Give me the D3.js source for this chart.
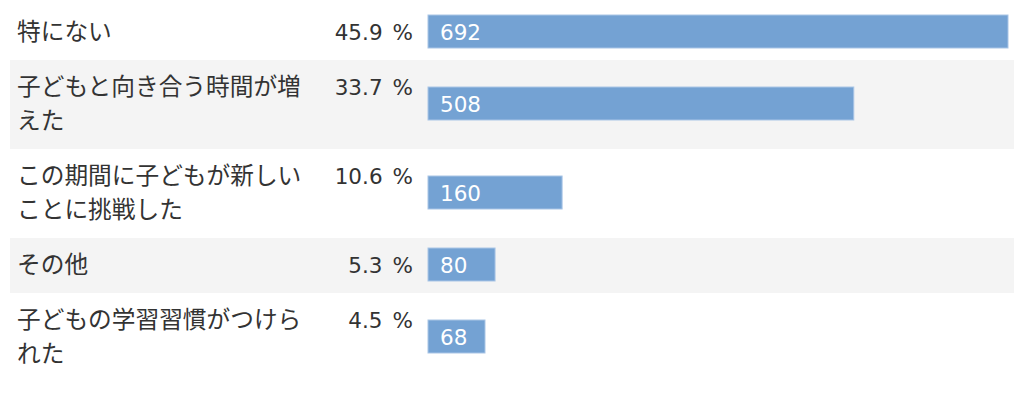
<!DOCTYPE html>
<html>
<head>
<meta charset="utf-8">
<script src="https://cdn.jsdelivr.net/npm/d3@7"></script>
<style>
  body { margin: 0; background: #fff; }
  svg text { font-family: "Noto Sans CJK JP", "Noto Sans", sans-serif; }
  svg text.num { font-family: "DejaVu Sans", Verdana, sans-serif; }
</style>
</head>
<body>
<svg id="chart" width="1024" height="396"></svg>
<script>
const labels = [
  "特にない",
  "子どもと向き合う時間が増えた",
  "この期間に子どもが新しいことに挑戦した",
  "その他",
  "子どもの学習習慣がつけられた"
];
const percents = [45.9, 33.7, 10.6, 5.3, 4.5];
const counts = [692, 508, 160, 80, 68];

const svg = d3.select("#chart");

const charsPerLine = 12;
const lineHeight = 34;
const rowPad = 21;
const top0 = 5;

// split labels into lines of 12 chars
const rows = labels.map((label, i) => {
  const lines = [];
  for (let k = 0; k < label.length; k += charsPerLine) lines.push(label.slice(k, k + charsPerLine));
  return { label, lines, pct: percents[i], count: counts[i] };
});

let y = top0;
rows.forEach(r => {
  r.y = y;
  r.h = rowPad + lineHeight * r.lines.length;
  y += r.h;
});

const x = d3.scaleLinear()
  .domain([0, d3.max(counts)])
  .range([428, 1008]);

const g = svg.selectAll("g.row")
  .data(rows)
  .join("g")
  .attr("class", "row")
  .attr("transform", d => `translate(0,${d.y})`);

g.append("rect")
  .attr("x", 10)
  .attr("width", 1004)
  .attr("height", d => d.h)
  .attr("fill", (d, i) => i % 2 ? "#f4f4f4" : "#fff");

g.append("text")
  .attr("x", 17)
  .attr("y", 35)
  .attr("font-size", 23.7)
  .attr("fill", "#333")
  .selectAll("tspan")
  .data(d => d.lines)
  .join("tspan")
  .attr("x", 17)
  .attr("dy", (d, i) => i ? lineHeight : 0)
  .text(d => d);

const pct = g.append("text")
  .attr("class", "num")
  .attr("x", 413)
  .attr("y", 35)
  .attr("text-anchor", "end")
  .attr("font-size", 21.5)
  .attr("fill", "#333");
pct.append("tspan").text(d => d.pct.toFixed(1));
pct.append("tspan").attr("dx", 10).text("%");

const barH = 33;
g.append("rect")
  .attr("x", x(0))
  .attr("y", d => d.h / 2 - barH / 2 - 1)
  .attr("width", d => x(d.count) - x(0))
  .attr("height", barH)
  .attr("fill", "#74a2d3")
  .attr("stroke", "#a9c5e6")
  .attr("stroke-width", 1);

g.append("text")
  .attr("class", "num")
  .attr("x", x(0) + 12)
  .attr("y", d => d.h / 2 + 7)
  .attr("font-size", 21.5)
  .attr("fill", "#fff")
  .text(d => d.count);
</script>
</body>
</html>
